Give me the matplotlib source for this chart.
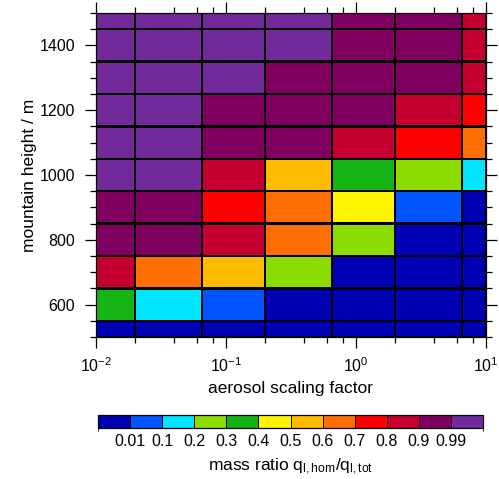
import numpy as np
import matplotlib
matplotlib.use("Agg")
import matplotlib.pyplot as plt
from matplotlib.colors import ListedColormap, BoundaryNorm
from matplotlib.ticker import FixedLocator, NullFormatter

plt.rcParams['font.family'] = ['Liberation Sans', 'DejaVu Sans']
plt.rcParams['mathtext.fontset'] = 'custom'
plt.rcParams['mathtext.rm'] = 'Liberation Sans'
plt.rcParams['mathtext.it'] = 'Liberation Sans'

# aerosol scaling factors (cell centres)
aerosol = [0.01, 0.03, 0.1, 0.3, 1, 3, 10]
# mountain heights (cell centres), m
heights = [500, 600, 700, 800, 900, 1000, 1100, 1200, 1300, 1400, 1500]

# colour-class boundaries of the mass ratio
levels = [0.0, 0.01, 0.1, 0.2, 0.3, 0.4, 0.5, 0.6, 0.7, 0.8, 0.9, 0.99, 1.0]
level_labels = ["0.01", "0.1", "0.2", "0.3", "0.4", "0.5", "0.6", "0.7", "0.8", "0.9", "0.99"]
colors = ["#0000B4", "#0055FF", "#00E6FF", "#8CDC00", "#14B414", "#FFF500",
          "#FFBB00", "#FF6E00", "#FF0000", "#C50030", "#800060", "#722A9A"]

# mass ratio q_l,hom / q_l,tot  (rows = heights bottom->top, cols = aerosol)
ratio_500  = [0.005, 0.005, 0.005, 0.005, 0.005, 0.005, 0.005]
ratio_600  = [0.35, 0.15, 0.05, 0.005, 0.005, 0.005, 0.005]
ratio_700  = [0.85, 0.65, 0.55, 0.25, 0.005, 0.005, 0.005]
ratio_800  = [0.95, 0.95, 0.85, 0.65, 0.25, 0.005, 0.005]
ratio_900  = [0.95, 0.95, 0.75, 0.65, 0.45, 0.05, 0.005]
ratio_1000 = [0.995, 0.995, 0.85, 0.55, 0.35, 0.25, 0.15]
ratio_1100 = [0.995, 0.995, 0.95, 0.95, 0.85, 0.75, 0.65]
ratio_1200 = [0.995, 0.995, 0.95, 0.95, 0.95, 0.85, 0.75]
ratio_1300 = [0.995, 0.995, 0.995, 0.95, 0.95, 0.95, 0.85]
ratio_1400 = [0.995, 0.995, 0.995, 0.995, 0.95, 0.95, 0.85]
ratio_1500 = [0.995, 0.995, 0.995, 0.995, 0.95, 0.95, 0.85]

Z = np.array([ratio_500, ratio_600, ratio_700, ratio_800, ratio_900, ratio_1000,
              ratio_1100, ratio_1200, ratio_1300, ratio_1400, ratio_1500])

def edges(c):
    c = np.asarray(c, dtype=float)
    mid = (c[:-1] + c[1:]) / 2
    return np.concatenate([[c[0]], mid, [c[-1]]])

xe = edges(aerosol)
ye = edges(heights)

cmap = ListedColormap(colors)
norm = BoundaryNorm(levels, cmap.N)

fig = plt.figure(figsize=(4.99, 4.79), dpi=100)
ax = fig.add_axes([96/499, 1-337/479, 390/499, 324/479])
mesh = ax.pcolormesh(xe, ye, Z, cmap=cmap, norm=norm, edgecolors='black', linewidth=0.9)
mesh.set_snap(False)
ax.set_xscale('log')
ax.set_xlim(0.01, 10)
ax.set_ylim(500, 1500)

ax.xaxis.set_minor_locator(FixedLocator([m * 10.0**e for e in (-2, -1, 0) for m in (2, 4, 6, 8)]))
ax.xaxis.set_minor_formatter(NullFormatter())
ax.set_yticks([600, 800, 1000, 1200, 1400])
ax.yaxis.set_minor_locator(FixedLocator(np.arange(500, 1501, 50)))

ax.tick_params(which='both', direction='out', top=True, right=True, labelsize=11.5, width=0.9)
ax.tick_params(which='major', length=8)
ax.tick_params(which='minor', length=4.5)
ax.tick_params(axis='y', which='major', pad=7)
ax.tick_params(axis='x', which='major', pad=6)
for s in ax.spines.values():
    s.set_linewidth(0.9)

ax.set_xlabel("aerosol scaling factor", fontsize=12.5, labelpad=4)
ax.set_ylabel("mountain height / m", fontsize=12.5, labelpad=2)

cax = fig.add_axes([98/499, 1-428/479, 385/499, 13/479])
cb = fig.colorbar(mesh, cax=cax, orientation='horizontal', drawedges=True,
                  boundaries=levels, ticks=levels[1:-1], spacing='uniform')
cb.ax.set_xticklabels(level_labels)
cb.ax.tick_params(length=0, labelsize=11.5, pad=4)
cb.outline.set_linewidth(0.9)
cb.dividers.set_linewidth(0.7)
cb.set_label(r"mass ratio q$_{\mathregular{l,hom}}$/q$_{\mathregular{l,tot}}$", fontsize=12.5, labelpad=6)

fig.savefig("out.png", dpi=100)
